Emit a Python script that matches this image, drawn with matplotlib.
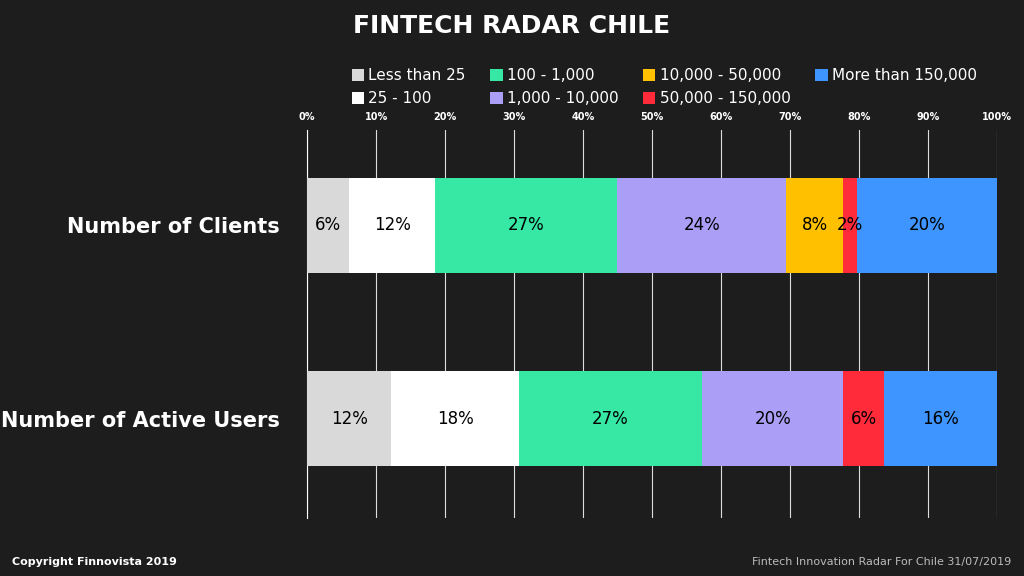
import matplotlib.pyplot as plt
from matplotlib.patches import Patch

categories = ['Number of Clients', 'Number of Active Users']
bands = ['Less than 25', '25 - 100', '100 - 1,000', '1,000 - 10,000',
         '10,000 - 50,000', '50,000 - 150,000', 'More than 150,000']
clients = [6.1, 12.4, 26.4, 24.5, 8.3, 1.9, 20.4]
users = [12.2, 18.5, 26.5, 20.5, 0.0, 5.9, 16.4]
labels_clients = ['6%', '12%', '27%', '24%', '8%', '2%', '20%']
labels_users = ['12%', '18%', '27%', '20%', '', '6%', '16%']
colors = ['#d9d9d9', '#ffffff', '#36e8a3', '#aa9ef7', '#ffc000', '#ff2b3b', '#3f95ff']

bg = '#1e1d1d'
plt.rcParams['font.family'] = 'DejaVu Sans'
fig = plt.figure(figsize=(10.24, 5.76), dpi=100, facecolor=bg)
ax = fig.add_axes([0.3, 0.101, 0.674, 0.673], facecolor=bg)

series = [clients, users]
texts = [labels_clients, labels_users]
for row, (vals, labs) in enumerate(zip(series, texts)):
    left = 0
    for v, lab, c in zip(vals, labs, colors):
        if v > 0:
            ax.barh(row, v, left=left, height=0.49, color=c, zorder=3)
            ax.text(left + v / 2, row, lab, ha='center', va='center',
                    fontsize=12, color='black', zorder=4)
        left += v

ax.set_xlim(0, 100)
ax.set_ylim(1.51, -0.49)
ax.set_xticks(range(0, 101, 10))
ax.set_xticklabels([f'{t}%' for t in range(0, 101, 10)], fontsize=7,
                   fontweight='bold', color='white')
ax.xaxis.tick_top()
ax.tick_params(axis='x', length=0, pad=6)
ax.grid(axis='x', color='#dddddd', linewidth=0.8, zorder=0)
ax.set_yticks([0, 1])
ax.set_yticklabels(categories, fontsize=15, fontweight='bold', color='white')
ax.tick_params(axis='y', length=0, pad=20)
for s in ['top', 'right', 'bottom']:
    ax.spines[s].set_visible(False)
ax.spines['left'].set_color('white')

fig.text(0.5, 0.955, 'FINTECH RADAR CHILE', ha='center', va='center',
         fontsize=18, color='white', fontweight='bold')

handles = [Patch(facecolor=c, edgecolor='none') for c in colors]
fig.legend(handles, bands, loc='upper left', bbox_to_anchor=(0.33, 0.905),
           ncol=4, frameon=False, fontsize=11, labelcolor='white',
           handlelength=0.8, handleheight=0.8, handletextpad=0.3,
           columnspacing=1.6, labelspacing=0.5)

fig.text(0.012, 0.025, 'Copyright Finnovista 2019', fontsize=8,
         fontweight='bold', color='white', va='center')
fig.text(0.988, 0.025, 'Fintech Innovation Radar For Chile 31/07/2019', fontsize=8,
         color='#bbbbbb', ha='right', va='center')

fig.savefig('out.png', dpi=100, facecolor=bg)
